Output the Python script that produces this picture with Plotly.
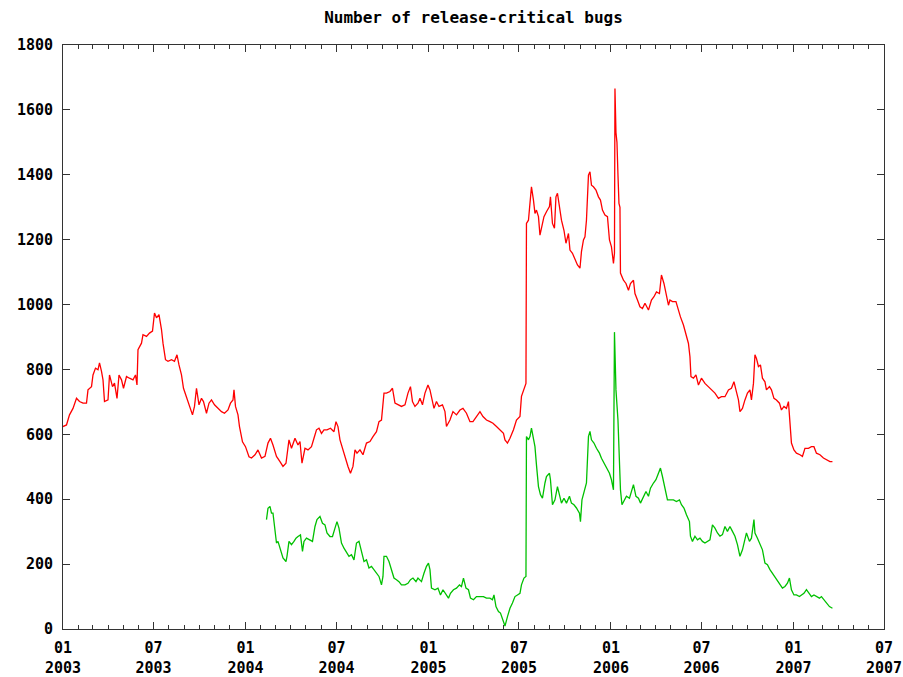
import plotly.graph_objects as go
import pandas as pd

start = pd.Timestamp("2003-01-01")

# days since 2003-01-01 and number of RC bugs (red series)
red_day = [
    0, 7, 13, 20, 27, 33, 40, 47, 50, 57,
    60, 65, 70, 73, 77, 80, 83, 90, 93, 99,
    103, 108, 112, 117, 121, 127, 133, 140, 145, 148,
    150, 157, 160, 167, 173, 179, 183, 187, 192, 197,
    200, 205, 210, 217, 223, 228, 232, 237, 241, 247,
    253, 259, 263, 267, 272, 277, 281, 287, 292, 297,
    303, 310, 317, 323, 330, 335, 340, 342, 345, 350,
    353, 359, 365, 372,
    377, 384, 390, 397, 404, 410, 415, 420, 427, 434,
    440, 446, 452, 457, 464, 470, 474, 478, 484, 490,
    497, 502, 507, 512, 517, 522, 528, 535, 542, 546,
    550, 554, 559, 566, 570, 575, 580, 584, 588, 594,
    600, 607, 614, 620, 627, 632, 637, 642, 647, 654,
    659, 664, 670, 677, 684, 690, 695, 699, 704, 710,
    714, 719, 724, 730, 734,
    737, 742, 747, 752, 759, 764, 767, 774, 780, 787,
    794, 800, 807, 814, 820, 827, 834, 840, 847, 854,
    860, 867, 874, 881, 884, 889, 894, 901, 907, 914,
    917, 922, 926,
    927, 931, 934, 937, 941, 944, 947, 951, 954, 957,
    962, 967, 973, 975, 979, 983, 986, 989, 993, 997,
    1002, 1006, 1011, 1014, 1019, 1024, 1029, 1034, 1037, 1041,
    1044, 1047, 1051, 1054, 1057, 1061, 1066, 1071, 1075, 1079,
    1084, 1089, 1093, 1097, 1101, 1103, 1104, 1106, 1108, 1110,
    1112, 1114, 1115,
    1121, 1126, 1131, 1135, 1141, 1144, 1149, 1154, 1159, 1164,
    1171, 1177, 1182, 1187, 1193, 1197, 1202, 1207, 1211, 1214,
    1219, 1226, 1231, 1235, 1241, 1246, 1251, 1254, 1256, 1261,
    1266, 1271, 1277, 1284, 1291, 1297, 1304, 1311, 1317, 1324,
    1331, 1337, 1342, 1346, 1351, 1354, 1359, 1364, 1369, 1374,
    1377, 1381, 1384, 1387, 1391, 1395, 1399, 1404, 1407, 1413,
    1417, 1422, 1427, 1433, 1437, 1442, 1447, 1451, 1454, 1457,
    1462, 1467, 1474, 1479, 1484, 1491, 1497, 1502, 1507, 1514,
    1521, 1527, 1534, 1539,
]
red_bugs = [
    624, 629, 660, 680, 711, 701, 696, 696, 737, 747,
    783, 804, 799, 820, 794, 768, 701, 706, 783, 747,
    758, 711, 783, 768, 742, 778, 773, 768, 783, 752,
    861, 881, 907, 902, 912, 918, 974, 959, 969, 923,
    881, 830, 825, 830, 825, 845, 814, 783, 742, 716,
    686, 660, 686, 742, 691, 711, 701, 665, 696, 706,
    691, 680, 670, 665, 675, 696, 706, 737, 686, 660,
    624, 577, 562, 531,
    527, 537, 552, 527, 532, 573, 588, 567, 532, 516,
    501, 511, 583, 557, 588, 567, 578, 511, 557, 552,
    562, 588, 614, 619, 603, 614, 614, 619, 608, 639,
    624, 583, 557, 516, 501, 480, 501, 552, 542, 552,
    537, 573, 578, 593, 608, 639, 644, 727, 727, 732,
    742, 696, 691, 686, 691, 727, 747, 701, 686, 696,
    711, 691, 727, 752, 737,
    711, 680, 701, 686, 691, 670, 624, 644, 670, 660,
    675, 680, 665, 639, 639, 655, 670, 655, 644, 639,
    634, 624, 614, 603, 583, 573, 588, 614, 644, 655,
    717, 737, 757,
    1250, 1260, 1312, 1363, 1322, 1281, 1291, 1271, 1214, 1235,
    1271, 1286, 1302, 1332, 1250, 1235, 1332, 1343, 1302, 1260,
    1229, 1189, 1219, 1168, 1158, 1137, 1122, 1112, 1163, 1199,
    1209, 1260, 1399, 1409, 1368, 1363, 1353, 1332, 1322, 1291,
    1276, 1271, 1199, 1178, 1127, 1158, 1666, 1530, 1500, 1400,
    1312, 1300, 1097,
    1075, 1065, 1044, 1065, 1075, 1034, 1014, 993, 988, 1004,
    983, 1014, 1024, 1039, 1034, 1091, 1065, 1024, 998, 1014,
    1009, 1009, 978, 962, 937, 906, 880, 839, 778, 773,
    783, 752, 773, 757, 747, 737, 727, 711, 716, 716,
    737, 742, 762, 737, 706, 670, 680, 706, 727, 737,
    706, 757, 845, 834, 809, 814, 773, 762, 737, 747,
    737, 711, 706, 696, 675, 686, 680, 701, 634, 573,
    552, 542, 537, 532, 557, 557, 562, 562, 542, 537,
    527, 522, 516, 516,
]

# days since 2003-01-01 and number of bugs (green series)
green_day = [
    407, 410, 414, 417, 420, 424, 427, 430, 435, 440,
    446, 448, 452, 457, 462, 466, 470, 475, 479, 482,
    487, 494, 499, 504, 508, 514, 519, 524, 528, 534,
    539, 544, 548, 552, 557, 562, 567, 572, 577, 582,
    587, 592, 597, 602, 607, 612, 617, 622, 627, 632,
    637, 640, 642, 647, 652, 657, 662, 667, 672, 677,
    684, 690, 695, 700, 706, 710, 717, 722, 727, 731,
    734, 737, 744, 750, 755, 760, 766, 771, 775, 781,
    787, 793, 797, 801, 806, 811, 815, 821, 827, 834,
    841, 847, 854, 859, 862, 866, 871, 875, 879, 884,
    889, 894, 899, 904, 909, 914, 917, 922, 926, 927,
    931, 934, 937, 941, 944, 947, 951, 955, 959, 964,
    967, 973, 975, 979, 984, 989, 993, 997, 1002, 1007,
    1013, 1017, 1022, 1027, 1033, 1035, 1038, 1042, 1047, 1051,
    1054, 1057, 1062, 1067, 1073, 1077, 1082, 1087, 1093, 1097,
    1101, 1103, 1105, 1106, 1110, 1112, 1115, 1118, 1122, 1127,
    1133, 1137, 1141, 1146, 1151, 1155, 1161, 1166, 1171, 1175,
    1181, 1186, 1191, 1195, 1199, 1204, 1209, 1214, 1221, 1227,
    1233, 1237, 1242, 1247, 1253, 1255, 1259, 1264, 1269, 1274,
    1279, 1284, 1289, 1294, 1299, 1304, 1309, 1314, 1319, 1324,
    1329, 1334, 1339, 1344, 1349, 1354, 1359, 1364, 1367, 1373,
    1377, 1382, 1384, 1389, 1394, 1399, 1404, 1409, 1414, 1419,
    1424, 1429, 1434, 1439, 1444, 1449, 1453, 1457, 1462, 1467,
    1473, 1477, 1482, 1487, 1493, 1497, 1502, 1507, 1513, 1517,
    1522, 1527, 1533, 1539,
]
green_bugs = [
    337, 372, 378, 357, 357, 296, 265, 270, 244, 219,
    208, 224, 270, 260, 270, 280, 285, 290, 239, 270,
    280, 275, 270, 316, 337, 347, 326, 321, 296, 285,
    285, 311, 331, 311, 265, 249, 234, 224, 229, 213,
    265, 270, 239, 208, 213, 188, 193, 183, 172, 162,
    136, 162, 224, 224, 208, 183, 157, 152, 146, 136,
    136, 141, 152, 157, 146, 157, 146, 172, 193, 203,
    183, 126, 121, 126, 105, 121, 105, 95, 110, 121,
    126, 136, 131, 157, 126, 121, 95, 90, 100, 100,
    100, 95, 95, 90, 105, 69, 54, 49, 28, 9,
    38, 64, 80, 100, 105, 110, 136, 157, 162, 593,
    583, 593, 619, 583, 562, 506, 439, 414, 403, 450,
    470, 480, 460, 383, 398, 439, 414, 388, 403, 388,
    409, 388, 383, 373, 357, 331, 398, 424, 450, 593,
    609, 583, 573, 557, 542, 526, 511, 501, 480, 460,
    429, 915, 819, 737, 644, 562, 429, 383, 393, 409,
    403, 429, 445, 409, 403, 388, 409, 424, 409, 434,
    450, 460, 480, 496, 470, 429, 398, 398, 398, 393,
    398, 383, 373, 352, 331, 286, 270, 286, 275, 280,
    270, 265, 270, 275, 321, 311, 296, 286, 291, 316,
    301, 316, 301, 286, 260, 224, 244, 280, 296, 270,
    280, 337, 296, 280, 260, 244, 203, 198, 183, 172,
    162, 152, 141, 126, 131, 141, 157, 121, 105, 105,
    100, 105, 110, 121, 110, 100, 105, 100, 95, 100,
    90, 80, 69, 64,
]

tick_dates = ["2003-01-01", "2003-07-01", "2004-01-01", "2004-07-01", "2005-01-01",
              "2005-07-01", "2006-01-01", "2006-07-01", "2007-01-01", "2007-07-01"]
tick_text = ["01<br>2003", "07<br>2003", "01<br>2004", "07<br>2004", "01<br>2005",
             "07<br>2005", "01<br>2006", "07<br>2006", "01<br>2007", "07<br>2007"]
y_ticks = [0, 200, 400, 600, 800, 1000, 1200, 1400, 1600, 1800]

red_dates = start + pd.to_timedelta(red_day, unit="D")
green_dates = start + pd.to_timedelta(green_day, unit="D")

FONT = dict(family="DejaVu Sans Mono", size=15, color="#000000", weight="bold")
TITLE_FONT = dict(family="DejaVu Sans Mono", size=16, color="#000000", weight="bold")
AXIS_COLOR = "#333333"

fig = go.Figure()
fig.add_trace(go.Scatter(x=red_dates, y=red_bugs, mode="lines",
                         line=dict(color="#ff0000", width=1.3), showlegend=False))
fig.add_trace(go.Scatter(x=green_dates, y=green_bugs, mode="lines",
                         line=dict(color="#00c000", width=1.3), showlegend=False))

fig.update_layout(
    width=903, height=677,
    margin=dict(l=63, r=19, t=45, b=48, autoexpand=False),
    paper_bgcolor="white", plot_bgcolor="white",
    font=FONT,
    title=dict(text="Number of release-critical bugs", x=0.5, xref="paper",
               y=1 - 17 / 677, yref="container", yanchor="middle", xanchor="center",
               font=TITLE_FONT, automargin=False),
    showlegend=False,
)
fig.update_xaxes(
    type="date", range=["2003-01-01", "2007-07-01 03:00"],
    tickmode="array", tickvals=tick_dates, ticktext=tick_text,
    ticks="inside", ticklen=7, tickwidth=1, tickcolor=AXIS_COLOR,
    minor=dict(ticks="inside", dtick="M1", tick0="2003-01-01", ticklen=4,
               tickcolor=AXIS_COLOR, tickwidth=1, showgrid=False),
    showline=True, linecolor=AXIS_COLOR, linewidth=1, mirror="allticks",
    showgrid=False, zeroline=False, tickfont=FONT, ticklabelstandoff=5,
    ticklabeloverflow="allow", automargin=False,
)
fig.update_yaxes(
    range=[0, 1800], tickmode="array", tickvals=y_ticks,
    ticks="inside", ticklen=7, tickwidth=1, tickcolor=AXIS_COLOR,
    showline=True, linecolor=AXIS_COLOR, linewidth=1, mirror="allticks",
    showgrid=False, zeroline=False, tickfont=FONT, ticklabelstandoff=6,
    automargin=False,
)

fig.write_html(
    "out.html",
    config={"displayModeBar": False},
    post_script="document.body.style.margin='0px';document.body.style.overflow='hidden';",
)
